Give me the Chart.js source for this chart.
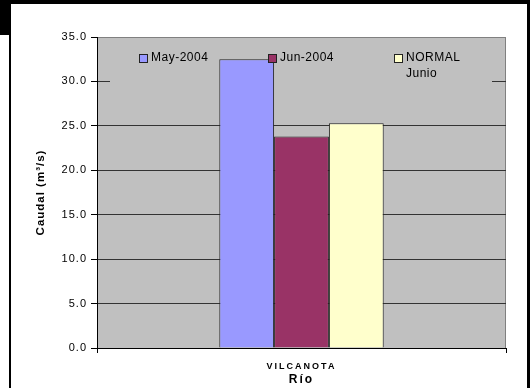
<!DOCTYPE html>
<html>
<head>
<meta charset="utf-8">
<script src="https://cdn.jsdelivr.net/npm/chart.js@4/dist/chart.umd.min.js"></script>
<style>
  html, body { margin: 0; padding: 0; background: #fff; }
  #wrap { width: 530px; height: 388px; position: relative; }
</style>
</head>
<body>
<div id="wrap"><canvas id="c"></canvas></div>
<script>
// river flow, one station
const categories = ['VILCANOTA'];
const seriesNames = [['May-2004'], ['Jun-2004'], ['NORMAL', 'Junio']];
const may2004 = [32.5];
const jun2004 = [23.8];
const normalJunio = [25.3];
const yMin = 0, yMax = 35, yStep = 5;

const FONT = 'Liberation Sans, Arial, sans-serif';
const fills = ['#9999ff', '#993366', '#ffffcc'];

// frame, plot background and the legend (drawn after the bars)
const excelLook = {
  id: 'excelLook',
  beforeDraw(chart) {
    const { ctx, chartArea: a } = chart;
    ctx.save();
    ctx.fillStyle = '#c0c0c0';
    ctx.fillRect(a.left, a.top, a.right - a.left, a.bottom - a.top);
    ctx.strokeStyle = '#808080';
    ctx.lineWidth = 1;
    ctx.beginPath();
    ctx.moveTo(a.left, a.top + 0.5);
    ctx.lineTo(a.right - 0.5, a.top + 0.5);
    ctx.lineTo(a.right - 0.5, a.bottom);
    ctx.stroke();
    ctx.restore();
    ctx.letterSpacing = '1px';
  },
  beforeDatasetsDraw(chart) {
    const { ctx } = chart;
    ctx.save();
    ctx.fillStyle = '#c0c0c0';
    ctx.fillRect(110, 40, 382, 46);
    ctx.restore();
  },
  afterDatasetsDraw(chart) {
    const { ctx } = chart;
    const xs = [139, 268, 394];
    ctx.save();
    ctx.letterSpacing = '0.5px';
    ctx.font = '12px ' + FONT;
    ctx.textBaseline = 'middle';
    ctx.textAlign = 'left';
    chart.data.datasets.forEach((ds, i) => {
      const x = xs[i];
      ctx.fillStyle = ds.backgroundColor;
      ctx.fillRect(x, 54, 8, 8);
      ctx.strokeStyle = '#222';
      ctx.lineWidth = 1;
      ctx.strokeRect(x + 0.5, 54.5, 8, 8);
      ctx.fillStyle = '#000';
      seriesNames[i].forEach((t, j) => ctx.fillText(t, x + 12, 57.5 + j * 16));
    });
    ctx.restore();
    // x axis text is wider spaced
    ctx.letterSpacing = '2px';
  },
  afterDraw(chart) {
    const { ctx } = chart;
    ctx.save();
    ctx.letterSpacing = '0px';
    ctx.fillStyle = '#000';
    ctx.fillRect(0, 0, 530, 4);
    ctx.fillRect(0, 0, 10, 35);
    ctx.fillRect(9, 0, 2, 388);
    ctx.fillRect(527, 0, 3, 388);
    ctx.restore();
  }
};

new Chart(document.getElementById('c'), {
  type: 'bar',
  data: {
    labels: categories,
    datasets: [
      { label: seriesNames[0].join(' '), data: may2004, backgroundColor: fills[0] },
      { label: seriesNames[1].join(' '), data: jun2004, backgroundColor: fills[1] },
      { label: seriesNames[2].join(' '), data: normalJunio, backgroundColor: fills[2] }
    ]
  },
  options: {
    responsive: true,
    maintainAspectRatio: false,
    animation: false,
    devicePixelRatio: 1,
    layout: { padding: { left: 34, right: 24, top: 37, bottom: 0 } },
    datasets: {
      bar: {
        borderColor: '#222',
        borderWidth: 1,
        barPercentage: 1,
        categoryPercentage: 0.402
      }
    },
    plugins: {
      legend: { display: false },
      tooltip: { enabled: false }
    },
    scales: {
      x: {
        offset: true,
        grid: {
          z: 1,
          offset: true,
          drawOnChartArea: false,
          drawTicks: true,
          tickLength: 5,
          color: '#000'
        },
        border: { color: '#000', width: 1, z: 1 },
        ticks: {
          z: 1,
          color: '#000',
          padding: 8,
          font: { family: FONT, size: 9, weight: 'bold' }
        },
        title: {
          display: true,
          text: 'Río',
          color: '#000',
          padding: { top: 0, bottom: 1 },
          font: { family: FONT, size: 12, weight: 'bold' }
        },
        afterFit(scale) { scale.height = 40; }
      },
      y: {
        min: yMin,
        max: yMax,
        grid: {
          color: (c) => c.tick && c.tick.value === yMax ? '#808080' : '#333',
          tickColor: '#000',
          tickLength: 6
        },
        border: { color: '#000', width: 1 },
        ticks: {
          stepSize: yStep,
          color: '#000',
          padding: 4,
          font: { family: FONT, size: 11 },
          callback: (v) => Number(v).toFixed(1)
        },
        title: {
          display: true,
          text: 'Caudal (m³/s)',
          color: '#000',
          padding: { top: 0, bottom: 0 },
          font: { family: FONT, size: 11.5, weight: 'bold' }
        },
        afterFit(scale) { scale.width = 63; }
      }
    }
  },
  plugins: [excelLook]
});
</script>
</body>
</html>
